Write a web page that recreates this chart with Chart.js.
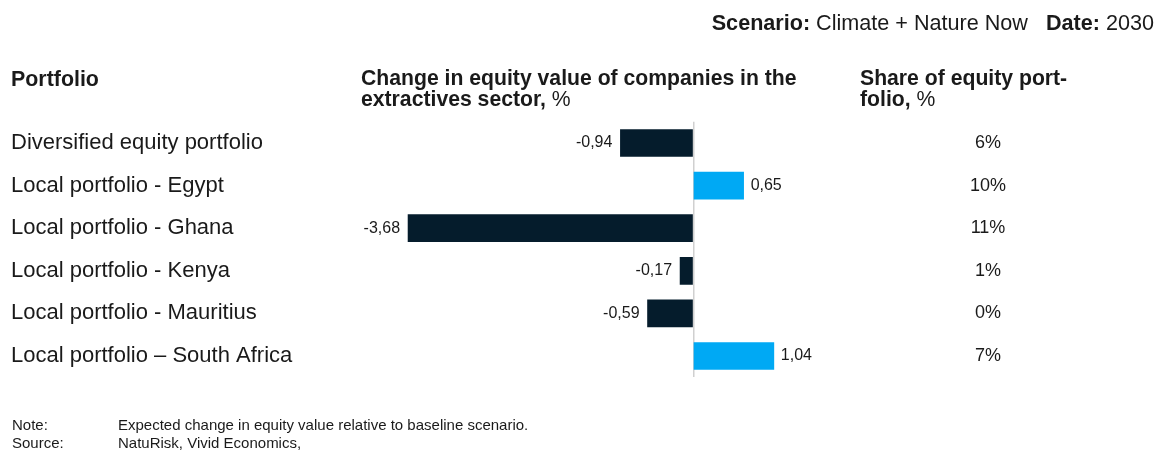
<!DOCTYPE html>
<html>
<head>
<meta charset="utf-8">
<script src="https://cdn.jsdelivr.net/npm/chart.js@4/dist/chart.umd.min.js"></script>
<style>
  html, body { margin:0; padding:0; background:#fff; }
  #wrap { position:relative; width:1156px; height:450px; overflow:hidden; font-family:"Liberation Sans", Arial, sans-serif; color:#1a1a1a; }
  #wrap canvas { position:absolute; left:0; top:0; }
  .t { position:absolute; white-space:nowrap; }
  .b { font-weight:bold; }
</style>
</head>
<body>
<div id="wrap">
  <canvas id="c" width="1156" height="450"></canvas>
  <div class="t" style="right:2px; top:10px; font-size:21.6px;"><span class="b">Scenario:</span> Climate + Nature Now&nbsp;&nbsp;&nbsp;<span class="b">Date:</span> 2030</div>
  <div class="t b" style="left:11px; top:67px; font-size:21.4px;">Portfolio</div>
  <div class="t" style="left:361px; top:67px; font-size:21.2px; line-height:21px;"><span class="b">Change in equity value of companies in the<br>extractives sector,</span> %</div>
  <div class="t" style="left:860px; top:67px; font-size:21.2px; line-height:21px;"><span class="b">Share of equity port-<br>folio,</span> %</div>
  <div class="t" style="left:12px; top:416px; font-size:15px;">Note:</div>
  <div class="t" style="left:118px; top:416px; font-size:15px;">Expected change in equity value relative to baseline scenario.</div>
  <div class="t" style="left:12px; top:434px; font-size:15px;">Source:</div>
  <div class="t" style="left:118px; top:434px; font-size:15px;">NatuRisk, Vivid Economics,</div>
</div>
<script>
const categories = [
  "Diversified equity portfolio",
  "Local portfolio - Egypt",
  "Local portfolio - Ghana",
  "Local portfolio - Kenya",
  "Local portfolio - Mauritius",
  "Local portfolio \u2013 South Africa"
];
const equityChange = [-0.94, 0.65, -3.68, -0.17, -0.59, 1.04];
const shareLabels = ["6%", "10%", "11%", "1%", "0%", "7%"];

const NAVY = "#051c2c";
const CYAN = "#00a9f4";
const FONT = "'Liberation Sans', Arial, sans-serif";

const fmt = v => v.toFixed(2).replace(".", ",");

const labelPlugin = {
  id: "labels",
  afterDatasetsDraw(chart) {
    const ctx = chart.ctx;
    const meta = chart.getDatasetMeta(0);
    ctx.save();
    ctx.font = "16px " + FONT;
    ctx.fillStyle = "#1a1a1a";
    ctx.textBaseline = "middle";
    meta.data.forEach((bar, i) => {
      const v = equityChange[i];
      if (v < 0) {
        ctx.textAlign = "right";
        ctx.fillText(fmt(v), Math.min(bar.x, bar.base) - 8, bar.y);
      } else {
        ctx.textAlign = "left";
        ctx.fillText(fmt(v), Math.max(bar.x, bar.base) + 7, bar.y);
      }
    });
    // share column
    const ys = chart.scales.y;
    ctx.font = "18px " + FONT;
    ctx.textAlign = "center";
    shareLabels.forEach((s, i) => {
      ctx.fillText(s, 988, ys.getPixelForValue(i));
    });
    ctx.restore();
  }
};

new Chart(document.getElementById("c"), {
  type: "bar",
  data: {
    labels: categories,
    datasets: [{
      data: equityChange,
      backgroundColor: equityChange.map(v => v < 0 ? NAVY : CYAN),
      borderWidth: 0,
      barThickness: 27
    }]
  },
  options: {
    indexAxis: "y",
    responsive: false,
    animation: false,
    devicePixelRatio: 1,
    layout: { padding: { left: 11, right: 191.5, top: 121.7, bottom: 72.7 } },
    plugins: { legend: { display: false }, tooltip: { enabled: false } },
    scales: {
      x: {
        min: -3.7, max: 3.5,
        ticks: { display: false },
        border: { display: false },
        grid: {
          drawTicks: false,
          lineWidth: 1.5,
          color: c => (c.tick && c.tick.value === 0) ? "#d0d0d0" : "rgba(0,0,0,0)"
        }
      },
      y: {
        position: "left",
        grid: { display: false, drawTicks: false },
        border: { display: false },
        ticks: {
          crossAlign: "far",
          padding: 0,
          color: "#1a1a1a",
          font: { size: 22, family: FONT }
        },
        afterFit: s => { s.width = 406.5 - 11; }
      }
    }
  },
  plugins: [labelPlugin]
});
</script>
</body>
</html>
